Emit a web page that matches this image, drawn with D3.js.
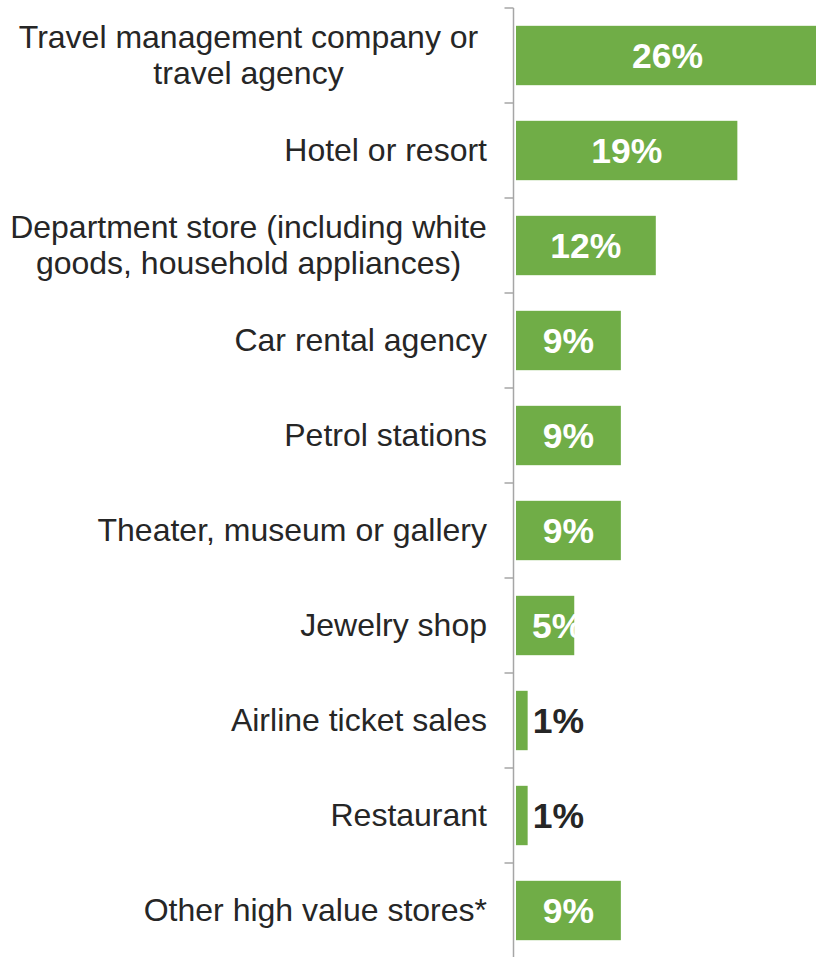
<!DOCTYPE html>
<html>
<head>
<meta charset="utf-8">
<script src="https://cdn.jsdelivr.net/npm/d3@7"></script>
<style>
  html, body { margin: 0; padding: 0; background: #fff; }
  svg { display: block; }
</style>
</head>
<body>
<svg id="chart" width="816" height="957"></svg>
<script>
// Where the purchase was made (share of respondents, %)
const categories = [
  "Travel management company or\ntravel agency",
  "Hotel or resort",
  "Department store (including white\ngoods, household appliances)",
  "Car rental agency",
  "Petrol stations",
  "Theater, museum or gallery",
  "Jewelry shop",
  "Airline ticket sales",
  "Restaurant",
  "Other high value stores*"
];
const values = [26, 19, 12, 9, 9, 9, 5, 1, 1, 9];
const valueLabels = values.map(v => v + "%");

const W = 816, H = 957;
const axisX = 513.5;
const barX0 = 516;
const labelRight = 487;
const labelLeft = 10;
const catFont = 32;
const valFont = 35.5;
const green = "#70ad47";
const textColor = "#262626";
const axisColor = "#a6a6a6";

const svg = d3.select("#chart");

const rows = categories.map((c, i) => ({ cat: c, value: values[i], label: valueLabels[i] }));

// band for each category row (used for ticks), and an inner band for the bars
const rowBand = d3.scaleBand().domain(categories).range([8, 958]).padding(0);
const y = d3.scaleBand().domain(categories).range([8, 958])
  .paddingInner(0.375).paddingOuter(0.1875);
const x = d3.scaleLinear().domain([0, 30]).range([barX0, barX0 + 30 * 11.65]);

// bars
svg.append("g").selectAll("rect").data(rows).join("rect")
  .attr("x", x(0))
  .attr("y", d => y(d.cat))
  .attr("width", d => x(d.value) - x(0))
  .attr("height", y.bandwidth())
  .attr("fill", green);

// vertical axis with ticks at row boundaries
const axisG = svg.append("g");
axisG.append("line")
  .attr("x1", axisX).attr("x2", axisX)
  .attr("y1", rowBand.range()[0]).attr("y2", rowBand.range()[1])
  .attr("stroke", axisColor).attr("stroke-width", 1.5);
const boundaries = categories.map(c => rowBand(c)).concat([rowBand.range()[1]]);
axisG.selectAll("line.tick").data(boundaries).join("line")
  .attr("class", "tick")
  .attr("x1", axisX - 9).attr("x2", axisX)
  .attr("y1", d => d).attr("y2", d => d)
  .attr("stroke", axisColor).attr("stroke-width", 1.5);

// category labels: single lines right-aligned, wrapped lines centred in the label area
const catG = svg.append("g")
  .attr("font-family", "'Liberation Sans', Arial, sans-serif")
  .attr("font-size", catFont)
  .attr("fill", textColor);
const lineGap = 36;
rows.forEach(d => {
  const lines = d.cat.split("\n");
  const cy = rowBand(d.cat) + rowBand.bandwidth() / 2;
  const base = cy + 0.34 * catFont - (lines.length - 1) * lineGap / 2;
  const multi = lines.length > 1;
  const t = catG.append("text")
    .attr("text-anchor", multi ? "middle" : "end");
  lines.forEach((ln, k) => {
    t.append("tspan")
      .attr("x", multi ? (labelLeft + labelRight) / 2 : labelRight)
      .attr("y", base + k * lineGap)
      .text(ln);
  });
});

// value labels: white inside the bar, dark just past the end of very short bars
const valG = svg.append("g")
  .attr("font-family", "'Liberation Sans', Arial, sans-serif")
  .attr("font-size", valFont)
  .attr("font-weight", "bold");
rows.forEach(d => {
  const cy = y(d.cat) + y.bandwidth() / 2 + 0.358 * valFont;
  const barEnd = x(d.value);
  const t = valG.append("text").attr("y", cy).text(d.label);
  if (d.value >= 3) {
    const w = t.node().getComputedTextLength();
    const cx = Math.max((x(0) + barEnd) / 2, x(0) + 16 + w / 2);
    t.attr("x", cx).attr("text-anchor", "middle").attr("fill", "#ffffff");
  } else {
    t.attr("x", x(d.value) + 5).attr("text-anchor", "start").attr("fill", textColor);
  }
});
</script>
</body>
</html>
